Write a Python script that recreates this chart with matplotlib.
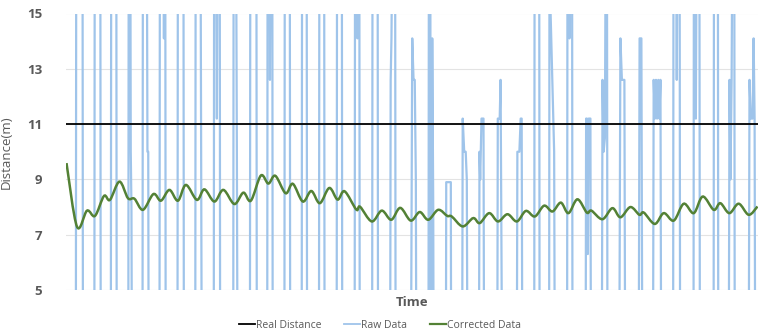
import matplotlib
matplotlib.use("Agg")
import matplotlib.pyplot as plt
from matplotlib.lines import Line2D
from matplotlib.path import Path
from matplotlib.patches import PathPatch

plt.rcParams["font.family"] = ["Open Sans", "DejaVu Sans"]

REAL_DISTANCE = 11.0

# raw sensor readings (time, metres); readings below 5 / above 15 fall outside the view
raw_t = [66.0,
         75.3, 75.8, 82.0, 82.5,
         93.8, 94.3, 99.8, 100.3,
         110.3, 110.8, 115.8, 116.3,
         127.8, 128.3, 129.8, 130.3, 131.0, 131.6,
         142.0, 142.5, 146.3, 147.0, 147.8, 148.3,
         159.0, 159.5, 162.8, 163.5, 164.2, 164.8, 165.3,
         177.0, 177.5, 183.0, 183.5,
         194.8, 195.3, 200.0, 200.8, 201.5,
         213.3, 213.8, 215.5, 216.5, 217.5, 219.3, 219.8,
         232.8, 233.3, 235.5, 236.5, 237.3,
         249.5, 250.0, 256.0, 256.5,
         266.8, 267.3, 268.8, 269.6, 270.4, 271.9, 272.4,
         284.0, 284.5, 289.4, 289.9,
         301.3, 301.8, 306.3, 306.8,
         318.6, 319.1, 323.8, 324.3,
         336.3, 336.8, 341.5, 342.0,
         354.3, 354.8, 356.5, 357.2, 358.0, 359.0, 359.5,
         371.8, 372.3, 377.3, 377.8,
         389.8, 390.4, 391.2, 392.5, 394.8, 395.4,
         410.5, 412.0, 413.3, 414.5, 415.6, 416.2,
         428.2, 428.7, 430.0, 430.6, 431.4, 432.0, 433.0, 433.5,
         445.6, 446.0, 450.6, 451.0,
         461.8, 462.5, 464.0, 465.5, 466.6, 467.4,
         478.6, 479.3, 480.0, 481.3, 483.3, 484.0,
         497.0, 497.6, 499.5, 500.4, 502.2,
         516.5, 517.2, 519.2, 520.5, 521.5, 522.3,
         534.0, 534.5, 539.0, 539.5,
         548.9, 549.4, 549.9, 550.1, 554.0, 554.8,
         566.9, 567.4, 568.6, 569.3, 570.0, 571.9, 572.4,
         585.4, 586.0, 586.8, 587.7, 588.5, 590.3, 590.9,
         601.6, 602.4, 603.5, 604.8, 605.8, 606.8, 607.4,
         619.0, 620.3, 621.8, 624.3, 625.2,
         638.5, 639.5, 641.3, 642.4,
         652.8, 653.6, 654.8, 655.9, 657.0, 658.2, 659.3, 660.4, 661.2,
         673.0, 673.5, 675.8, 676.7, 677.7, 679.5, 680.1,
         693.4, 693.9, 695.0, 695.8, 696.8, 699.3, 699.9,
         713.5, 714.0, 717.8, 718.3,
         728.6, 729.5, 730.4, 731.6, 732.6, 734.2, 734.8,
         748.6, 749.5, 750.8, 752.6, 753.6, 754.6, 755.3,
         758.0]
raw_v = [0,
         0, 20, 20, 0,
         0, 20, 20, 0,
         0, 20, 20, 0,
         0, 20, 20, 10.0, 8.0, 0,
         0, 20, 20, 10.0, 10.0, 0,
         0, 20, 20, 14.1, 20, 20, 0,
         0, 20, 20, 0,
         0, 20, 20, 9.0, 0,
         0, 20, 20, 11.2, 20, 20, 0,
         0, 20, 20, 10.0, 0,
         0, 20, 20, 0,
         0, 20, 20, 12.6, 20, 20, 0,
         0, 20, 20, 0,
         0, 20, 20, 0,
         0, 20, 20, 0,
         0, 20, 20, 0,
         0, 20, 20, 14.1, 20, 20, 0,
         0, 20, 20, 0,
         0, 12.6, 14.1, 20, 20, 0,
         0, 14.1, 12.6, 12.6, 9.0, 0,
         0, 20, 20, 0, 0, 14.1, 8.0, 0,
         0, 8.9, 8.9, 0,
         0, 11.2, 10.0, 10.0, 9.0, 0,
         0, 10.0, 9.0, 11.2, 11.2, 0,
         0, 11.2, 11.2, 12.6, 0,
         0, 10.0, 10.0, 11.2, 11.2, 0,
         0, 20, 20, 0,
         0, 20, 20, 15.5, 10.0, 0,
         0, 20, 20, 14.1, 20, 20, 0,
         0, 11.2, 11.2, 6.3, 11.2, 11.2, 0,
         0, 12.6, 10.0, 10.5, 20, 20, 0,
         0, 14.1, 12.6, 12.6, 0,
         0, 14.1, 14.1, 0,
         0, 12.6, 11.2, 12.6, 11.2, 12.6, 11.2, 12.6, 0,
         0, 20, 20, 12.6, 20, 20, 0,
         0, 20, 20, 11.2, 20, 20, 0,
         0, 20, 20, 0,
         0, 12.6, 9.0, 12.6, 20, 20, 0,
         0, 12.6, 11.2, 11.2, 14.1, 11.2, 0,
         0]

# corrected (filtered) distance, turning points of the smoothed curve
corr_t = [66, 76.5, 86.5, 94.5, 103.5, 109.5, 119, 127.5, 134, 142.5, 153, 160.5,
          169, 177.5, 185.5, 196.5, 204, 214, 223, 234, 243, 250.5, 260.5, 268,
          275, 285.3, 292.5, 302.5, 311, 319.5, 329, 337.3, 344.3, 356, 359.8,
          371.5, 381.5, 391, 400, 410.5, 419.5, 428, 438, 447, 451.5, 462.5, 473,
          479.5, 489, 497.8, 507.3, 516.7, 525.7, 534.7, 544, 552.3, 560.7, 568.3,
          577.3, 586.7, 591.3, 602.3, 612.3, 620.3, 630.3, 639.3, 643.7, 654.7,
          663.7, 673.7, 683.7, 693.7, 702.7, 713.7, 720.3, 729.3, 738.7, 748.7, 757.5]
corr_v = [9.59, 7.29, 7.87, 7.68, 8.40, 8.26, 8.92, 8.32, 8.30, 7.90, 8.47, 8.23,
          8.62, 8.23, 8.80, 8.26, 8.64, 8.20, 8.62, 8.11, 8.52, 8.23, 9.14, 8.85,
          9.13, 8.50, 8.84, 8.20, 8.58, 8.14, 8.69, 8.27, 8.57, 7.91, 8.01,
          7.48, 7.87, 7.54, 7.97, 7.51, 7.82, 7.54, 7.90, 7.68, 7.66, 7.30, 7.60,
          7.42, 7.78, 7.48, 7.74, 7.48, 7.86, 7.66, 8.05, 7.84, 8.16, 7.78,
          8.28, 7.80, 7.87, 7.56, 7.96, 7.63, 8.00, 7.72, 7.80, 7.39,
          7.78, 7.51, 8.12, 7.78, 8.38, 7.90, 8.14, 7.78, 8.12, 7.72, 8.02]

y_ticks = [5, 7, 9, 11, 13, 15]

C_RAW = "#9fc4ea"
C_CORR = "#538135"
C_TEXT = "#595959"


def smooth_path(xs, ys):
    # Excel-style "smoothed line": Catmull-Rom through the points, drawn as Bezier
    pts = list(zip(xs, ys))
    verts = [pts[0]]
    codes = [Path.MOVETO]
    n = len(pts)
    for i in range(n - 1):
        p0 = pts[max(i - 1, 0)]
        p1 = pts[i]
        p2 = pts[i + 1]
        p3 = pts[min(i + 2, n - 1)]
        c1 = (p1[0] + (p2[0] - p0[0]) / 6, p1[1] + (p2[1] - p0[1]) / 6)
        c2 = (p2[0] - (p3[0] - p1[0]) / 6, p2[1] - (p3[1] - p1[1]) / 6)
        verts += [c1, c2, p2]
        codes += [Path.CURVE4] * 3
    return Path(verts, codes)


fig = plt.figure(figsize=(7.58, 3.36), dpi=100)
ax = fig.add_axes([66 / 758, 46 / 336, 692 / 758, 276.5 / 336])

ax.plot(raw_t, raw_v, color=C_RAW, lw=1.6, zorder=2)
ax.axhline(REAL_DISTANCE, color="black", lw=1.3, zorder=3)
ax.add_patch(PathPatch(smooth_path(corr_t, corr_v), fill=False,
                       edgecolor=C_CORR, lw=1.8, zorder=4))

ax.set_xlim(65.5, 758)
ax.set_ylim(5, 15)
ax.set_yticks(y_ticks)
ax.set_xticks([])
ax.tick_params(axis="y", length=0, pad=17, labelsize=9.5, labelcolor=C_TEXT)
for lab in ax.get_yticklabels():
    lab.set_fontweight("bold")
ax.grid(axis="y", color="#e3e3e3", lw=0.8, zorder=0)
for s in ax.spines.values():
    s.set_visible(False)

ax.set_ylabel("Distance(m)", fontsize=9.5, color=C_TEXT)
ax.yaxis.set_label_coords(-0.077, 0.5)
ax.text(0.5, -0.047, "Time", transform=ax.transAxes, ha="center", va="center",
        fontsize=9.5, fontweight="bold", color=C_TEXT)

handles = [Line2D([], [], color="black", lw=1.3),
           Line2D([], [], color=C_RAW, lw=1.3),
           Line2D([], [], color=C_CORR, lw=1.6)]
fig.legend(handles, ["Real Distance", "Raw Data", "Corrected Data"],
           loc="center", bbox_to_anchor=(380 / 758, 1 - 325 / 336), ncol=3,
           frameon=False, fontsize=7.5, labelcolor=C_TEXT, handlelength=1.5,
           handletextpad=0.1, columnspacing=2.2)

fig.savefig("out.png", dpi=100)
